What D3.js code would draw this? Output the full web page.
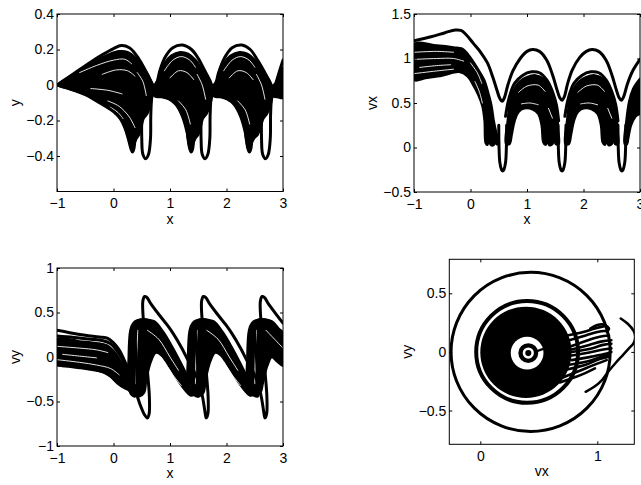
<!DOCTYPE html>
<html>
<head>
<meta charset="utf-8">
<script src="https://cdn.jsdelivr.net/npm/d3@7"></script>
<style>
body { margin: 0; background: #fff; }
text { font-family: 'Liberation Sans', Arial, Helvetica, sans-serif; font-size: 14px; fill: #000; }
</style>
</head>
<body>
<script>
// ---- axes setup
var xTicks = [-1, 0, 1, 2, 3]
var p1YTicks = [-0.4, -0.2, 0, 0.2, 0.4]
var p2YTicks = [-0.5, 0, 0.5, 1, 1.5]
var p3YTicks = [-1, -0.5, 0, 0.5, 1]
var p4XTicks = [0, 1]
var p4YTicks = [-0.5, 0, 0.5]
var xLabels = ['x', 'x', 'x', 'vx']
var yLabels = ['y', 'vx', 'vy', 'vy']

// ---- panel 1 : x vs y
var p1Mass = [
  [[-0.98,0.0],[-0.7,0.06],[-0.5,0.1],[-0.3,0.14],[-0.1,0.17],[0.1,0.19],[0.25,0.185],[0.4,0.15],[0.55,0.09],[0.65,0.03],[0.7,-0.02],[0.66,-0.1],[0.6,-0.16],[0.53,-0.19],[0.49,-0.24],[0.45,-0.28],[0.41,-0.3],[0.37,-0.33],[0.335,-0.375],[0.3,-0.34],[0.25,-0.28],[0.17,-0.21],[0.05,-0.16],[-0.2,-0.1],[-0.5,-0.05],[-0.8,-0.02]],
  [[0.7,-0.03],[0.8,0.04],[0.9,0.12],[1.02,0.165],[1.18,0.185],[1.32,0.175],[1.45,0.14],[1.58,0.08],[1.68,0.03],[1.75,-0.03],[1.71,-0.11],[1.65,-0.16],[1.58,-0.19],[1.54,-0.24],[1.5,-0.28],[1.45,-0.3],[1.41,-0.33],[1.375,-0.375],[1.34,-0.34],[1.3,-0.27],[1.22,-0.18],[1.1,-0.11],[0.98,-0.08],[0.85,-0.068],[0.74,-0.065]],
  [[1.75,-0.03],[1.85,0.04],[1.95,0.12],[2.07,0.165],[2.23,0.185],[2.37,0.175],[2.5,0.14],[2.63,0.08],[2.75,0.03],[2.82,-0.03],[2.78,-0.11],[2.72,-0.16],[2.65,-0.19],[2.6,-0.24],[2.55,-0.28],[2.49,-0.3],[2.44,-0.33],[2.405,-0.375],[2.37,-0.34],[2.33,-0.27],[2.25,-0.18],[2.13,-0.11],[2.01,-0.08],[1.89,-0.068],[1.79,-0.065]],
  [[2.82,-0.04],[2.9,0.03],[2.96,0.08],[3.02,0.1],[3.02,-0.07],[2.9,-0.068],[2.84,-0.065]]
]
var p1Gaps = [
  [[-0.6,0.07],[-0.3,0.11],[0.0,0.14],[0.2,0.145],[0.32,0.12]],
  [[-0.2,0.06],[0.05,0.085],[0.25,0.08],[0.38,0.05]],
  [[-0.4,-0.02],[-0.1,-0.03],[0.15,-0.05]],
  [[-0.1,-0.09],[0.1,-0.12],[0.28,-0.18],[0.38,-0.24]],
  [[0.42,0.07],[0.52,0.02],[0.58,-0.06]],
  [[-0.06,-0.125],[0.08,-0.155],[0.17,-0.19]],
  [[0.9,0.08],[1.05,0.14],[1.2,0.16],[1.35,0.14],[1.45,0.1]],
  [[1.0,0.04],[1.15,0.08],[1.3,0.07],[1.42,0.03]],
  [[1.15,-0.09],[1.28,-0.14],[1.36,-0.22]],
  [[1.48,0.06],[1.57,0.0],[1.63,-0.08]],
  [[1.95,0.08],[2.1,0.14],[2.25,0.16],[2.4,0.14],[2.5,0.1]],
  [[2.05,0.04],[2.2,0.08],[2.35,0.07],[2.47,0.03]],
  [[2.2,-0.09],[2.33,-0.14],[2.41,-0.22]],
  [[2.53,0.06],[2.62,0.0],[2.68,-0.08]]
]
var p1Tracks = [
  [[-1,0],[-0.7,0.065],[-0.4,0.13],[-0.2,0.17],[0,0.205],[0.14,0.222],[0.28,0.21],[0.4,0.17],[0.5,0.12],[0.6,0.06],[0.68,0.01],[0.72,-0.02],[0.76,0.0],[0.82,0.08],[0.92,0.16],[1.05,0.21],[1.22,0.225],[1.38,0.2],[1.5,0.15],[1.6,0.09],[1.7,0.03],[1.76,-0.01],[1.8,0.0],[1.86,0.07],[1.96,0.15],[2.1,0.21],[2.27,0.225],[2.42,0.2],[2.55,0.14],[2.66,0.08],[2.76,0.02],[2.82,-0.02],[2.86,0.0],[2.92,0.06],[3.0,0.14]],
  [[-1,0],[-0.7,-0.03],[-0.5,-0.055],[-0.25,-0.1],[0,-0.15],[0.12,-0.19],[0.2,-0.24],[0.26,-0.3],[0.31,-0.36],[0.335,-0.378],[0.36,-0.36],[0.38,-0.3]],
  [[1.31,-0.28],[1.35,-0.36],[1.375,-0.378],[1.4,-0.36],[1.42,-0.3]],
  [[2.34,-0.28],[2.38,-0.36],[2.405,-0.378],[2.43,-0.36],[2.45,-0.3]],
  [[0.5,-0.17],[0.5,-0.3],[0.52,-0.39],[0.57,-0.415],[0.62,-0.39],[0.655,-0.3],[0.66,-0.17],[0.68,-0.06],[0.72,0.0]],
  [[1.55,-0.17],[1.55,-0.3],[1.57,-0.39],[1.62,-0.415],[1.67,-0.39],[1.705,-0.3],[1.71,-0.17],[1.73,-0.06],[1.77,0.0]],
  [[2.62,-0.17],[2.62,-0.3],[2.64,-0.39],[2.69,-0.415],[2.74,-0.39],[2.775,-0.3],[2.78,-0.17],[2.8,-0.06],[2.84,0.0]]
]

// ---- panel 2 : x vs vx
var p2Mass = [
  [[-1,1.16],[-0.6,1.145],[-0.3,1.125],[-0.15,1.11],[-0.05,1.05],[0.05,0.96],[0.15,0.86],[0.24,0.76],[0.31,0.62],[0.37,0.47],[0.41,0.3],[0.45,0.18],[0.49,0.1],[0.5,0.04],[0.46,0.04],[0.44,0.13],[0.41,0.03],[0.36,0.03],[0.33,0.12],[0.3,0.03],[0.27,0.05],[0.25,0.3],[0.21,0.47],[0.14,0.59],[0.05,0.7],[-0.05,0.8],[-0.2,0.85],[-0.5,0.81],[-0.8,0.78],[-1,0.76]],
  [[0.63,0.04],[0.66,0.3],[0.7,0.5],[0.77,0.65],[0.87,0.74],[1.0,0.79],[1.15,0.81],[1.3,0.77],[1.41,0.67],[1.48,0.55],[1.53,0.4],[1.55,0.2],[1.56,0.04],[1.51,0.04],[1.48,0.14],[1.45,0.04],[1.39,0.03],[1.36,0.12],[1.33,0.03],[1.29,0.06],[1.26,0.25],[1.2,0.38],[1.1,0.43],[0.95,0.44],[0.85,0.4],[0.78,0.3],[0.73,0.15],[0.69,0.04]],
  [[1.68,0.04],[1.71,0.3],[1.75,0.5],[1.82,0.65],[1.92,0.74],[2.05,0.79],[2.2,0.81],[2.35,0.77],[2.46,0.67],[2.53,0.55],[2.58,0.4],[2.6,0.2],[2.61,0.04],[2.56,0.04],[2.53,0.14],[2.5,0.04],[2.44,0.03],[2.41,0.12],[2.38,0.03],[2.34,0.06],[2.31,0.25],[2.25,0.38],[2.15,0.43],[2.0,0.44],[1.9,0.4],[1.83,0.3],[1.78,0.15],[1.74,0.04]],
  [[2.73,0.04],[2.76,0.3],[2.81,0.52],[2.88,0.66],[2.95,0.73],[3.02,0.78],[3.02,0.4],[2.92,0.35],[2.84,0.25],[2.79,0.1],[2.77,0.04]]
]
var p2Gaps = [
  [[-1,1.07],[-0.6,1.08],[-0.3,1.07]],
  [[-1,0.99],[-0.6,1.0],[-0.3,1.0],[-0.12,0.97]],
  [[-0.9,0.9],[-0.6,0.92],[-0.35,0.93]],
  [[-1,0.83],[-0.6,0.86],[-0.3,0.88]],
  [[0.0,0.95],[0.12,0.84],[0.2,0.72]],
  [[0.08,0.74],[0.16,0.62],[0.21,0.5]],
  [[0.85,0.62],[1.0,0.69],[1.2,0.7],[1.32,0.63]],
  [[0.9,0.49],[1.05,0.5],[1.2,0.48]],
  [[1.38,0.44],[1.45,0.33]],
  [[1.9,0.62],[2.05,0.69],[2.25,0.7],[2.37,0.63]],
  [[1.95,0.49],[2.1,0.5],[2.25,0.48]],
  [[2.43,0.44],[2.5,0.33]]
]
var p2Tracks = [
  [[-1,1.2],[-0.7,1.245],[-0.45,1.29],[-0.27,1.32],[-0.17,1.315],[-0.08,1.27],[0.05,1.17],[0.18,1.07],[0.3,0.95],[0.4,0.78],[0.47,0.64],[0.52,0.55],[0.56,0.52],[0.6,0.56],[0.66,0.7],[0.75,0.86],[0.88,1.0],[1.0,1.08],[1.1,1.1],[1.22,1.08],[1.35,0.98],[1.45,0.82],[1.53,0.65],[1.58,0.56],[1.62,0.53],[1.66,0.57],[1.72,0.72],[1.8,0.87],[1.93,1.01],[2.05,1.08],[2.15,1.1],[2.27,1.08],[2.4,0.98],[2.5,0.82],[2.58,0.65],[2.63,0.56],[2.67,0.53],[2.71,0.57],[2.78,0.72],[2.87,0.86],[3.0,0.99]],
  [[0.62,0.35],[0.68,0.55],[0.78,0.72],[0.92,0.81],[1.08,0.85],[1.22,0.84],[1.35,0.76],[1.45,0.63],[1.52,0.48],[1.56,0.3]],
  [[1.67,0.35],[1.73,0.55],[1.83,0.72],[1.97,0.81],[2.13,0.85],[2.27,0.84],[2.4,0.76],[2.5,0.63],[2.57,0.48],[2.61,0.3]],
  [[0.5,0.25],[0.505,0.0],[0.52,-0.17],[0.55,-0.25],[0.57,-0.265],[0.59,-0.25],[0.62,-0.17],[0.635,0.0],[0.64,0.25]],
  [[1.55,0.25],[1.555,0.0],[1.57,-0.17],[1.6,-0.25],[1.62,-0.265],[1.64,-0.25],[1.67,-0.17],[1.685,0.0],[1.69,0.25]],
  [[2.61,0.25],[2.615,0.0],[2.63,-0.17],[2.66,-0.25],[2.68,-0.265],[2.7,-0.25],[2.73,-0.17],[2.745,0.0],[2.75,0.25]]
]

// ---- panel 3 : x vs vy
var p3Mass = [
  [[-1,0.2],[-0.6,0.175],[-0.3,0.155],[-0.12,0.13],[0.0,0.07],[0.1,-0.02],[0.18,-0.12],[0.25,-0.24],[0.3,-0.33],[0.28,-0.37],[0.2,-0.35],[0.08,-0.3],[-0.05,-0.22],[-0.15,-0.18],[-0.4,-0.13],[-0.7,-0.1],[-1,-0.08]],
  [[0.28,-0.38],[0.27,0.0],[0.3,0.3],[0.35,0.38],[0.42,0.41],[0.57,0.42],[0.72,0.4],[0.88,0.28],[1.05,0.1],[1.2,-0.08],[1.33,-0.25],[1.4,-0.36],[1.43,-0.42],[1.36,-0.43],[1.28,-0.38],[1.15,-0.27],[1.0,-0.12],[0.85,0.02],[0.75,0.05],[0.66,-0.05],[0.58,-0.25],[0.54,-0.4],[0.46,-0.44],[0.36,-0.42]],
  [[1.33,-0.38],[1.32,0.0],[1.35,0.3],[1.4,0.38],[1.47,0.41],[1.62,0.42],[1.77,0.4],[1.93,0.28],[2.1,0.1],[2.25,-0.08],[2.38,-0.25],[2.45,-0.36],[2.48,-0.42],[2.41,-0.43],[2.33,-0.38],[2.2,-0.27],[2.05,-0.12],[1.9,0.02],[1.8,0.05],[1.71,-0.05],[1.63,-0.25],[1.59,-0.4],[1.51,-0.44],[1.41,-0.42]],
  [[2.38,-0.4],[2.37,0.0],[2.4,0.3],[2.45,0.38],[2.52,0.41],[2.67,0.42],[2.8,0.4],[2.92,0.32],[3.02,0.25],[3.02,-0.1],[2.9,-0.05],[2.8,0.0],[2.72,-0.1],[2.64,-0.3],[2.6,-0.4],[2.52,-0.43],[2.44,-0.42]]
]
var p3Gaps = [
  [[-1,0.12],[-0.6,0.1],[-0.3,0.08],[-0.1,0.05]],
  [[-0.9,0.03],[-0.6,0.01],[-0.3,-0.01]],
  [[-1,-0.03],[-0.6,-0.06],[-0.3,-0.09],[-0.05,-0.13],[0.1,-0.2]],
  [[0.4,-0.3],[0.41,0.0],[0.43,0.3]],
  [[0.6,0.3],[0.8,0.2],[1.0,0.0],[1.15,-0.15]],
  [[0.9,-0.05],[1.05,-0.2],[1.2,-0.32]],
  [[1.45,-0.3],[1.46,0.0],[1.48,0.3]],
  [[1.65,0.3],[1.85,0.2],[2.05,0.0],[2.2,-0.15]],
  [[1.95,-0.05],[2.1,-0.2],[2.25,-0.32]],
  [[2.5,-0.3],[2.51,0.0],[2.53,0.3]],
  [[2.7,0.3],[2.85,0.2],[3.0,0.1]]
]
var p3Tracks = [
  [[-1,0.3],[-0.75,0.27],[-0.5,0.245],[-0.25,0.225],[-0.1,0.21],[0.0,0.16],[0.1,0.08],[0.18,-0.02],[0.25,-0.12],[0.32,-0.25],[0.4,-0.4],[0.48,-0.55],[0.55,-0.65],[0.6,-0.685],[0.63,-0.64],[0.635,-0.45],[0.6,-0.15],[0.56,0.2],[0.52,0.5],[0.52,0.63],[0.55,0.68],[0.59,0.67],[0.66,0.6],[0.8,0.48],[0.95,0.36],[1.06,0.26],[1.2,0.11],[1.33,-0.05],[1.44,-0.18],[1.52,-0.3],[1.58,-0.46],[1.62,-0.62],[1.64,-0.685],[1.67,-0.64],[1.675,-0.45],[1.64,-0.15],[1.6,0.2],[1.56,0.5],[1.56,0.63],[1.59,0.68],[1.63,0.67],[1.7,0.6],[1.84,0.48],[1.99,0.36],[2.1,0.26],[2.24,0.11],[2.37,-0.05],[2.48,-0.18],[2.56,-0.3],[2.62,-0.46],[2.66,-0.62],[2.68,-0.685],[2.71,-0.64],[2.715,-0.45],[2.68,-0.15],[2.64,0.2],[2.6,0.5],[2.6,0.63],[2.63,0.68],[2.67,0.67],[2.74,0.6],[2.88,0.48],[3.0,0.38]],
  [[-1,0.235],[-0.7,0.22],[-0.4,0.2],[-0.2,0.185],[-0.05,0.15],[0.05,0.08],[0.15,-0.02],[0.22,-0.13],[0.3,-0.26]],
  [[-1,-0.09],[-0.6,-0.12],[-0.3,-0.15],[-0.12,-0.18],[0.05,-0.27],[0.2,-0.34],[0.3,-0.37]],
  [[0.28,-0.35],[0.32,-0.42],[0.38,-0.44],[0.42,-0.38],[0.4,0.0],[0.38,0.3],[0.42,0.4],[0.5,0.42],[0.65,0.4],[0.8,0.3],[1.0,0.1],[1.2,-0.12],[1.35,-0.3],[1.43,-0.42],[1.5,-0.44],[1.52,-0.38],[1.48,0.0],[1.45,0.3],[1.48,0.4],[1.56,0.42],[1.7,0.4],[1.85,0.3],[2.05,0.1],[2.25,-0.12],[2.4,-0.3],[2.48,-0.42],[2.55,-0.44],[2.57,-0.38],[2.53,0.0],[2.5,0.3],[2.53,0.4],[2.61,0.42],[2.75,0.4],[2.9,0.3],[3.0,0.2]]
]

// ---- panel 4 : vx vs vy
var p4Orbits = [[0.43, 0, 0.68], [0.40, 0, 0.435]]        // centre vx, centre vy, radius
var p4Discs = [[0.39, -0.003, 0.39], [0.40, -0.01, 0.14], [0.41, -0.01, 0.085], [0.41, -0.01, 0.048], [0.41, -0.01, 0.026]]
var p4Tracks = [
  [[1.2,0.285],[1.26,0.24],[1.31,0.18],[1.325,0.13],[1.31,0.075],[1.27,0.03],[1.22,-0.025],[1.16,-0.09],[1.1,-0.16],[1.04,-0.24],[0.97,-0.3],[0.9,-0.34]],
  [[0.94,0.2],[1.0,0.23],[1.05,0.235],[1.1,0.2],[1.08,0.17]],
  [[0.47,0.0],[0.52,0.02],[0.56,0.03]]
]
var p4Wisps = [
  [[0.74,0.14],[0.88,0.17],[0.98,0.2],[1.06,0.22]],
  [[0.76,0.1],[0.9,0.14],[1.0,0.17],[1.08,0.18]],
  [[0.78,0.05],[0.92,0.1],[1.02,0.13],[1.1,0.14]],
  [[0.78,0.02],[0.93,0.06],[1.04,0.09],[1.12,0.1]],
  [[0.78,0.0],[0.95,0.03],[1.05,0.06],[1.12,0.07]],
  [[0.78,-0.03],[0.95,0.0],[1.05,0.02],[1.12,0.03]],
  [[0.78,-0.07],[0.95,-0.04],[1.05,-0.02],[1.12,0.0]],
  [[0.76,-0.11],[0.92,-0.08],[1.04,-0.04],[1.1,-0.02]],
  [[0.74,-0.15],[0.9,-0.11],[1.02,-0.06],[1.1,-0.04]],
  [[0.7,-0.22],[0.85,-0.16],[1.0,-0.1],[1.08,-0.07]],
  [[0.68,-0.26],[0.85,-0.2],[0.98,-0.14]]
]

// ---- drawing
var svg = d3.select('body').append('svg').attr('width', 641).attr('height', 485)
var fmt = d3.format('~g')

var make_panel = (id, box, xDom, yDom, xT, yT, xName, yName) => {
  var x = d3.scaleLinear().domain(xDom).range([box.l, box.r])
  var y = d3.scaleLinear().domain(yDom).range([box.b, box.t])

  svg.append('clipPath').attr('id', id)
    .append('rect').attr('x', box.l).attr('y', box.t)
    .attr('width', box.r - box.l).attr('height', box.b - box.t)
  var plot = svg.append('g').attr('clip-path', `url(#${id})`)

  var axes = [
    [d3.axisBottom(x).tickValues(xT).tickFormat(fmt).tickPadding(7), `translate(0,${box.b})`],
    [d3.axisTop(x).tickValues(xT).tickFormat(''), `translate(0,${box.t})`],
    [d3.axisLeft(y).tickValues(yT).tickFormat(fmt).tickPadding(3), `translate(${box.l},0)`],
    [d3.axisRight(y).tickValues(yT).tickFormat(''), `translate(${box.r},0)`]
  ]
  axes.forEach(a => {
    var g = svg.append('g').attr('transform', a[1])
      .call(a[0].tickSizeInner(-3).tickSizeOuter(0))
    g.attr('font-size', null).attr('font-family', null)
    g.select('.domain').remove()
  })

  svg.append('rect').attr('x', box.l).attr('y', box.t)
    .attr('width', box.r - box.l).attr('height', box.b - box.t)
    .attr('fill', 'none').attr('stroke', '#000').attr('stroke-width', 1)

  svg.append('text').attr('x', (box.l + box.r) / 2).attr('y', box.b + 32)
    .attr('text-anchor', 'middle').text(xName)
  svg.append('text')
    .attr('transform', `translate(${box.l - 42},${(box.t + box.b) / 2}) rotate(-90)`)
    .attr('text-anchor', 'middle').attr('dy', '0.35em').text(yName)

  return { x, y, plot }
}

var draw_lines = (p, data, closed, color, width) => {
  var line = d3.line().x(d => p.x(d[0])).y(d => p.y(d[1]))
    .curve(closed ? d3.curveCatmullRomClosed.alpha(0.5) : d3.curveCatmullRom.alpha(0.5))
  p.plot.append('g').selectAll('path').data(data).enter().append('path')
    .attr('d', line)
    .attr('fill', closed ? color : 'none')
    .attr('stroke', color)
    .attr('stroke-width', width)
    .attr('stroke-linejoin', 'round')
    .attr('stroke-linecap', 'round')
}

var fill_panel = (p, mass, gaps, tracks) => {
  draw_lines(p, mass, true, '#000', 2.5)
  draw_lines(p, gaps, false, '#fff', 0.9)
  draw_lines(p, tracks, false, '#000', 3)
}

var p1 = make_panel('c1', { l: 57, t: 14, r: 283, b: 191.5 }, [-1, 3], [-0.6, 0.4], xTicks, p1YTicks, xLabels[0], yLabels[0])
fill_panel(p1, p1Mass, p1Gaps, p1Tracks)

var p2 = make_panel('c2', { l: 414, t: 14, r: 640, b: 192 }, [-1, 3], [-0.5, 1.5], xTicks, p2YTicks, xLabels[1], yLabels[1])
fill_panel(p2, p2Mass, p2Gaps, p2Tracks)

var p3 = make_panel('c3', { l: 57, t: 268, r: 283, b: 446 }, [-1, 3], [-1, 1], xTicks, p3YTicks, xLabels[2], yLabels[2])
fill_panel(p3, p3Mass, p3Gaps, p3Tracks)

var p4 = make_panel('c4', { l: 449.3, t: 259.3, r: 634.3, b: 444.3 }, [-0.265, 1.316], [-0.788, 0.79], p4XTicks, p4YTicks, xLabels[3], yLabels[3])
var rad = (c) => p4.x(c[0] + c[2]) - p4.x(c[0])
p4.plot.append('g').selectAll('circle').data(p4Orbits).enter().append('circle')
  .attr('cx', d => p4.x(d[0])).attr('cy', d => p4.y(d[1])).attr('r', rad)
  .attr('fill', 'none').attr('stroke', '#000').attr('stroke-width', (d, i) => i ? 4 : 3)
draw_lines(p4, p4Wisps, false, '#000', 2.6)
p4.plot.append('g').selectAll('circle').data(p4Discs).enter().append('circle')
  .attr('cx', d => p4.x(d[0])).attr('cy', d => p4.y(d[1])).attr('r', rad)
  .attr('fill', (d, i) => i % 2 ? '#fff' : '#000')
draw_lines(p4, p4Tracks, false, '#000', 2.5)
</script>
</body>
</html>
